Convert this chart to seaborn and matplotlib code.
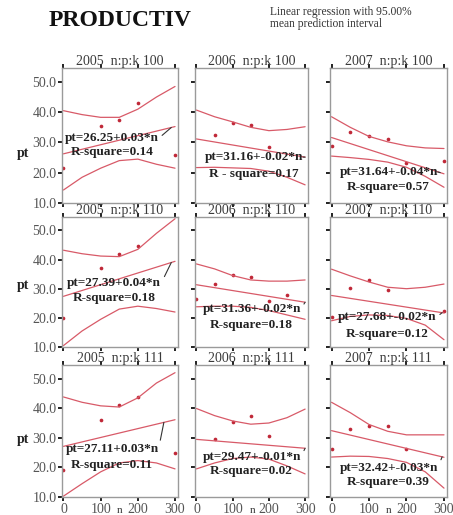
import numpy as np
import pandas as pd
import matplotlib
matplotlib.use("Agg")
import matplotlib.pyplot as plt
import seaborn as sns

# ---------------- data ----------------
years = ["2005", "2006", "2007"]
treatments = ["100", "110", "111"]

# observed points (n, pt) per panel
n_2005_100 = [0, 100, 150, 200, 300]
pt_2005_100 = [21.5, 35.5, 37.4, 43.0, 25.8]
n_2006_100 = [50, 100, 150, 200]
pt_2006_100 = [32.4, 36.4, 35.7, 28.5]
n_2007_100 = [0, 50, 100, 150, 200, 300]
pt_2007_100 = [28.8, 33.4, 32.1, 31.1, 23.2, 23.9]

n_2005_110 = [0, 100, 150, 200]
pt_2005_110 = [19.8, 37.1, 41.9, 44.6]
n_2006_110 = [0, 50, 100, 150, 200, 250]
pt_2006_110 = [26.6, 31.7, 34.7, 34.1, 25.9, 28.0]
n_2007_110 = [0, 50, 100, 150, 300]
pt_2007_110 = [20.2, 30.3, 33.0, 29.7, 22.5]

n_2005_111 = [0, 100, 150, 200, 300]
pt_2005_111 = [19.0, 35.9, 41.2, 43.8, 24.8]
n_2006_111 = [50, 100, 150, 200]
pt_2006_111 = [29.7, 35.2, 37.2, 30.7]
n_2007_111 = [0, 50, 100, 150, 200]
pt_2007_111 = [26.2, 33.1, 34.1, 34.1, 26.2]

# fitted equations shown in each panel (rows = treatment, cols = year)
intercepts = [[26.25, 31.16, 31.64],
              [27.39, 31.36, 27.68],
              [27.11, 29.47, 32.42]]
slopes = [[0.03, -0.02, -0.04],
          [0.04, -0.02, -0.02],
          [0.03, -0.01, -0.03]]
eq_labels = [["pt=26.25+0.03*n", "pt=31.16+-0.02*n", "pt=31.64+-0.04*n"],
             ["pt=27.39+0.04*n", "pt=31.36+-0.02*n", "pt=27.68+-0.02*n"],
             ["pt=27.11+0.03*n", "pt=29.47+-0.01*n", "pt=32.42+-0.03*n"]]
r2_labels = [["R-square=0.14", "R - square=0.17", "R-square=0.57"],
             ["R-square=0.18", "R-square=0.18", "R-square=0.12"],
             ["R-square=0.11", "R-square=0.02", "R-square=0.39"]]

# 95% mean prediction interval curves, read at these n values
band_n = [0, 50, 100, 150, 200, 250, 300]
upper_2005_100 = [40.5, 39.2, 38.3, 38.3, 41.0, 45.0, 48.5]
lower_2005_100 = [14.3, 18.5, 21.5, 24.0, 24.5, 22.8, 21.5]
upper_2006_100 = [40.7, 38.5, 36.8, 35.0, 33.9, 34.3, 35.2]
lower_2006_100 = [21.7, 21.8, 21.6, 21.4, 20.5, 18.5, 16.0]
upper_2007_100 = [38.5, 35.0, 32.0, 30.2, 28.9, 28.2, 28.0]
lower_2007_100 = [25.5, 25.0, 24.4, 23.5, 21.8, 18.8, 15.2]

upper_2005_110 = [43.2, 42.0, 41.2, 41.0, 43.5, 49.0, 54.0]
lower_2005_110 = [10.5, 15.5, 19.5, 23.0, 24.0, 23.2, 22.0]
upper_2006_110 = [38.5, 36.8, 34.5, 33.0, 32.6, 32.6, 33.0]
lower_2006_110 = [23.8, 24.0, 24.0, 23.6, 22.5, 21.0, 19.5]
upper_2007_110 = [36.7, 34.4, 32.3, 30.5, 30.0, 30.5, 31.6]
lower_2007_110 = [19.0, 20.5, 21.0, 20.8, 19.8, 17.5, 12.5]

upper_2005_111 = [43.8, 42.0, 40.8, 40.4, 43.5, 48.5, 52.0]
lower_2005_111 = [10.3, 14.5, 18.5, 21.5, 22.3, 21.5, 19.5]
upper_2006_111 = [39.9, 37.5, 35.7, 34.6, 35.0, 36.8, 39.7]
lower_2006_111 = [19.5, 21.5, 23.0, 23.5, 22.8, 20.5, 17.8]
upper_2007_111 = [42.0, 38.5, 34.5, 32.2, 31.0, 31.0, 31.0]
lower_2007_111 = [23.5, 23.8, 23.7, 23.0, 21.7, 18.5, 13.0]

x_ticks = [0, 100, 200, 300]
y_ticks = [10, 20, 30, 40, 50]

# ---------------- layout (pixels) ----------------
W, H = 453, 515
col_left = [62, 195, 330]
col_w = [116, 113, 117]
row_top = [68, 217, 365]
row_h = [135, 130, 132]

# text placements in axes fraction: (x_center, y_eq, y_r2)
text_pos = [[(0.43, 0.48, 0.38), (0.52, 0.34, 0.215), (0.50, 0.23, 0.12)],
            [(0.45, 0.49, 0.38), (0.50, 0.29, 0.17), (0.49, 0.23, 0.10)],
            [(0.43, 0.36, 0.24), (0.50, 0.30, 0.20), (0.50, 0.22, 0.11)]]
leader_n = [[290, 300, 290], [290, 300, 295], [270, 300, 295]]

points = {
    ("2005", "100"): (n_2005_100, pt_2005_100), ("2006", "100"): (n_2006_100, pt_2006_100),
    ("2007", "100"): (n_2007_100, pt_2007_100), ("2005", "110"): (n_2005_110, pt_2005_110),
    ("2006", "110"): (n_2006_110, pt_2006_110), ("2007", "110"): (n_2007_110, pt_2007_110),
    ("2005", "111"): (n_2005_111, pt_2005_111), ("2006", "111"): (n_2006_111, pt_2006_111),
    ("2007", "111"): (n_2007_111, pt_2007_111),
}
bands = {
    ("2005", "100"): (upper_2005_100, lower_2005_100), ("2006", "100"): (upper_2006_100, lower_2006_100),
    ("2007", "100"): (upper_2007_100, lower_2007_100), ("2005", "110"): (upper_2005_110, lower_2005_110),
    ("2006", "110"): (upper_2006_110, lower_2006_110), ("2007", "110"): (upper_2007_110, lower_2007_110),
    ("2005", "111"): (upper_2005_111, lower_2005_111), ("2006", "111"): (upper_2006_111, lower_2006_111),
    ("2007", "111"): (upper_2007_111, lower_2007_111),
}

sns.set_theme(style="white")
plt.rcParams["font.family"] = ["Liberation Serif", "DejaVu Serif"]

RED = "#d85a68"
DOT = "#c02838"
GREY_TXT = "#3a3a3a"

fig = plt.figure(figsize=(W / 100, H / 100), dpi=100)
fig.patch.set_facecolor("white")

for r, trt in enumerate(treatments):
    for c, yr in enumerate(years):
        ax = fig.add_axes([col_left[c] / W, 1 - (row_top[r] + row_h[r]) / H,
                           col_w[c] / W, row_h[r] / H])
        # fit line and interval curves
        ub, lb = bands[(yr, trt)]
        fit_n = [0, 300]
        fit_pt = [intercepts[r][c] + slopes[r][c] * v for v in fit_n]
        lines = pd.DataFrame({
            "n": band_n + band_n + fit_n,
            "pt": ub + lb + fit_pt,
            "curve": ["upper"] * len(band_n) + ["lower"] * len(band_n) + ["fit"] * 2,
        })
        sns.lineplot(data=lines, x="n", y="pt", units="curve", estimator=None,
                     color=RED, lw=0.9, ax=ax, sort=False)
        nx, py = points[(yr, trt)]
        sns.scatterplot(x=nx, y=py, ax=ax, color=DOT, s=7, linewidth=0, marker="o")

        ax.set_xlim(-4, 308)
        ax.set_ylim(10, 54.6)
        ax.set_xticks(x_ticks)
        ax.set_yticks(y_ticks)
        ax.set_xlabel("")
        ax.set_ylabel("")
        for sp in ax.spines.values():
            sp.set_color("#9a9a9a")
            sp.set_linewidth(1.0)
        ax.tick_params(axis="both", which="both", direction="out", length=3, width=1.4,
                       color="#222222", labelsize=10, labelcolor="#555555", pad=1,
                       top=True, bottom=True, left=True, right=False,
                       labeltop=False, labelright=False,
                       labelbottom=(r == 2), labelleft=(c == 0))
        if c == 0:
            ax.set_yticklabels([f"{v:.1f}" for v in y_ticks])
        if r == 2:
            ax.set_xticklabels([str(v) for v in x_ticks])
        ax.set_title(f"{yr}  n:p:k {trt}", fontsize=10, pad=2, color=GREY_TXT)

        tx, ty1, ty2 = text_pos[r][c]
        ln = leader_n[r][c]
        ax.annotate(eq_labels[r][c], xy=(ln, intercepts[r][c] + slopes[r][c] * ln),
                    xycoords="data", xytext=(tx, ty1), textcoords="axes fraction",
                    ha="center", va="center", fontsize=9.5, fontweight="bold",
                    color="#222222",
                    arrowprops=dict(arrowstyle="-", color="#333333", lw=0.8,
                                    relpos=(1.0, 0.5), shrinkA=0, shrinkB=0))
        ax.text(tx, ty2, r2_labels[r][c], transform=ax.transAxes, ha="center",
                va="center", fontsize=9.5, fontweight="bold", color="#222222")

# x-axis label "n" under each bottom panel, sitting between tick labels 100 and 200
for xc in [120, 253, 389]:
    fig.text(xc / W, 0.0, "n", ha="center", va="bottom", fontsize=8,
             color=GREY_TXT)

for yc in [153, 285, 440]:
    fig.text(23 / W, 1 - yc / H, "pt", ha="center", va="center", fontsize=10,
             fontweight="bold", color="#222222")

fig.text(120 / W, 1 - 20 / H, "PRODUCTIV", ha="center", va="center", fontsize=17,
         fontweight="bold", color="#111111")
fig.text(270 / W, 1 - 6 / H, "Linear regression with 95.00%\nmean prediction interval",
         ha="left", va="top", fontsize=8.3, color="#333333", linespacing=1.0)

fig.savefig("out.png", dpi=100, facecolor="white")
